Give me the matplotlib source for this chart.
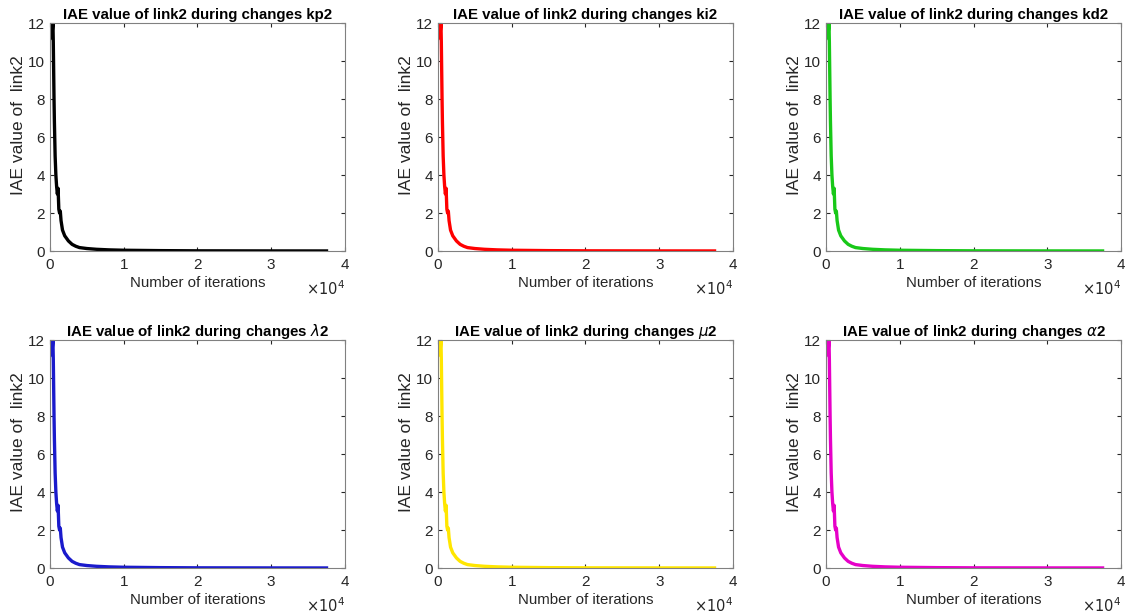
import matplotlib.pyplot as plt

plt.rcParams["font.family"] = ["Liberation Sans", "DejaVu Sans"]

# (same shape in every panel)
iterations = [0, 100, 200, 300, 400, 450, 500, 550, 600, 700, 800, 900,
              1000, 1100, 1200, 1300, 1400, 1500, 1700, 2000, 2500, 3000,
              3500, 4000, 5000, 6300, 8000, 10000, 15000, 20000, 30000, 37500]
iae = [11.2, 11.4, 11.9, 11.5, 12.0, 11.0, 9.5, 8.0, 6.8, 5.0, 4.0, 3.4,
       3.0, 3.3, 2.2, 2.0, 2.1, 1.6, 1.1, 0.8, 0.53, 0.35,
       0.25, 0.18, 0.13, 0.09, 0.06, 0.04, 0.02, 0.01, 0.005, 0.003]

params = ["kp2", "ki2", "kd2", r"$\lambda$2", r"$\mu$2", r"$\alpha$2"]
colors = ["#000000", "#ff0000", "#18c818", "#1a1acc", "#ffe600", "#e600c8"]

xticks = [0, 10000, 20000, 30000, 40000]
xtick_labels = ["0", "1", "2", "3", "4"]
yticks = [0, 2, 4, 6, 8, 10, 12]

fig = plt.figure(figsize=(11.28, 6.14), dpi=100)

lefts = [0.0443, 0.3883, 0.7323]
bottoms = [0.5912, 0.0749]
w, h = 0.2615, 0.3713

for i, (p, c) in enumerate(zip(params, colors)):
    ax = fig.add_axes([lefts[i % 3], bottoms[i // 3], w, h])
    ax.plot(iterations, iae, color=c, lw=2.4, solid_joinstyle="round")
    ax.set_xlim(0, 40000)
    ax.set_ylim(0, 12)
    ax.set_xticks(xticks)
    ax.set_xticklabels(xtick_labels)
    ax.set_yticks(yticks)
    ax.tick_params(direction="in", top=True, right=True, length=3,
                   labelsize=11, colors="#262626", labelcolor="#262626")
    ax.tick_params(axis="x", pad=5)
    for s in ax.spines.values():
        s.set_color("#808080")
        s.set_linewidth(0.8)
    ax.set_title(f"IAE value of link2 during changes {p}", fontsize=10.8,
                 fontweight="bold", pad=3)
    ax.set_xlabel("Number of iterations", fontsize=10.8, color="#262626", labelpad=3)
    ax.set_ylabel("IAE value of  link2", fontsize=12.5, color="#262626")
    ax.yaxis.set_label_coords(-0.08, 0.55)
    ax.text(1.0, -0.125, r"$\times10^4$", transform=ax.transAxes, ha="right",
            va="top", fontsize=10.5, color="#262626")

fig.savefig("out.png", dpi=100)
